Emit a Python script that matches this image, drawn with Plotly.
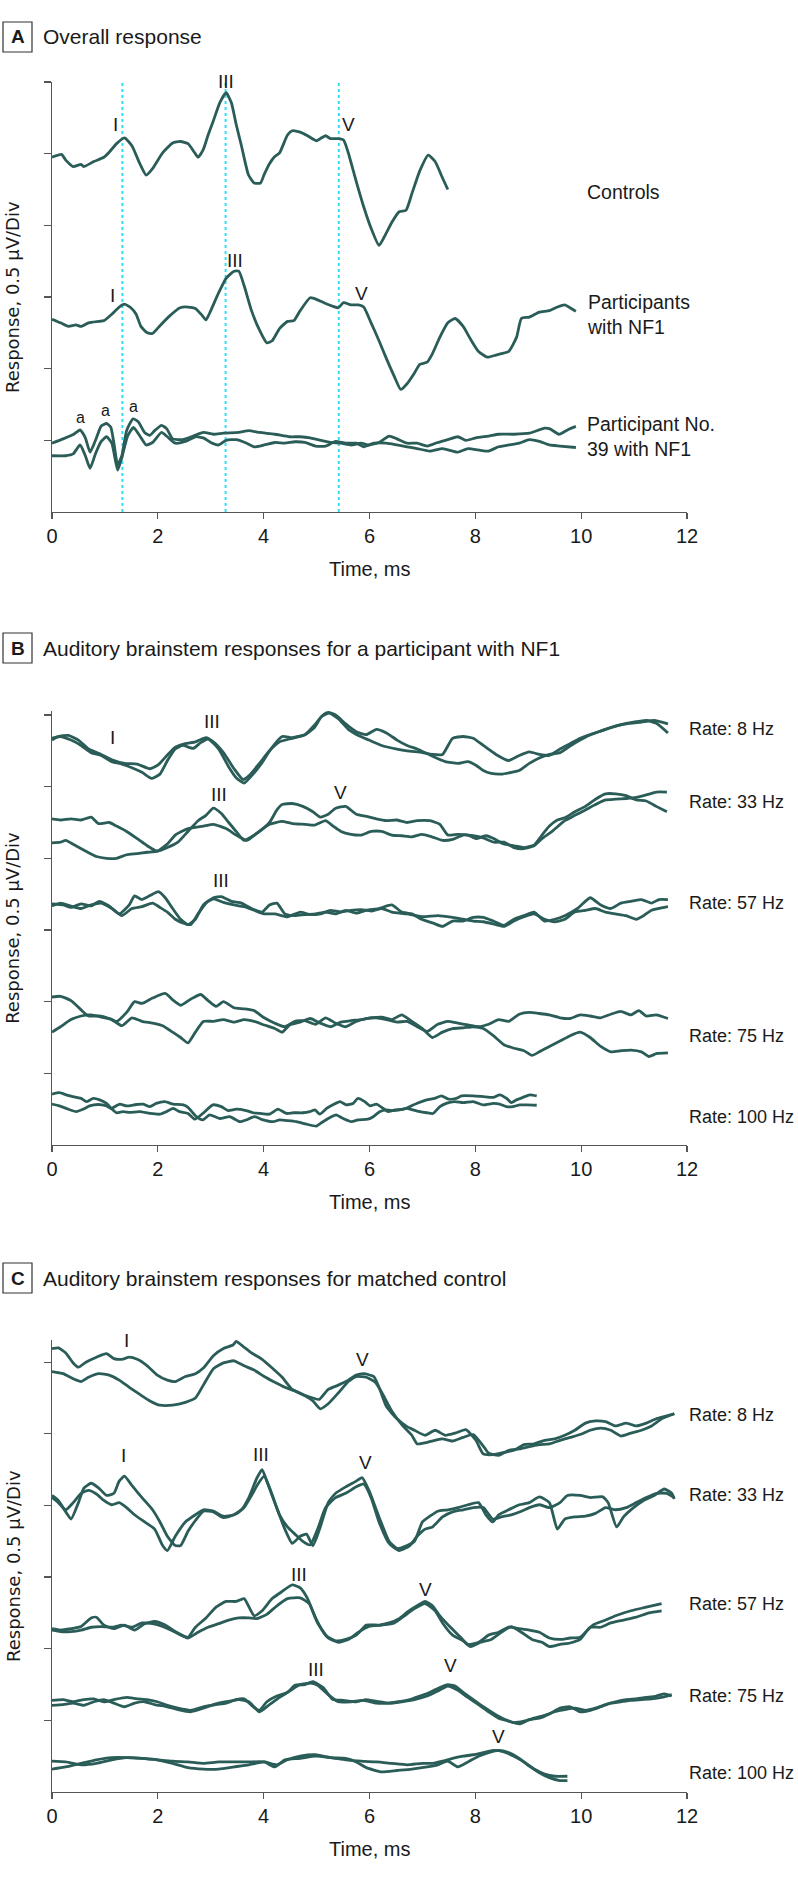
import plotly.graph_objects as go

W, H = 798, 1877
LINE = "#2b5d58"
AXC = "#555555"
FONT = "Liberation Sans, Arial, sans-serif"

# ---------------- Panel A data (time in ms, amplitude in divisions of 0.5 uV) ----------------
ctrl_t = [0.00,0.18,0.26,0.40,0.55,0.60,0.79,0.98,1.08,1.22,1.37,1.51,1.66,1.78,1.90,2.09,2.28,2.43,2.57,2.69,
          2.76,2.86,2.95,3.05,3.17,3.29,3.39,3.48,3.58,3.71,3.82,3.94,4.01,4.11,4.21,4.30,4.45,4.54,4.69,4.83,
          5.00,5.07,5.17,5.26,5.41,5.51,5.60,5.75,5.89,6.03,6.18,6.28,6.42,6.56,6.69,6.80,6.95,7.11,7.24,7.38,7.48]
ctrl_v = [4.95,4.99,4.91,4.82,4.85,4.82,4.89,4.95,5.02,5.14,5.22,5.11,4.86,4.70,4.79,5.01,5.15,5.17,5.14,5.02,
          4.95,5.06,5.26,5.46,5.71,5.85,5.71,5.41,5.11,4.71,4.59,4.59,4.71,4.86,4.96,5.01,5.26,5.32,5.30,5.25,
          5.18,5.21,5.25,5.21,5.21,5.19,5.01,4.61,4.26,3.96,3.72,3.84,4.04,4.19,4.21,4.44,4.76,4.98,4.89,4.66,4.50]

nf1_t = [0.00,0.16,0.31,0.45,0.55,0.69,0.89,0.98,1.13,1.27,1.37,1.49,1.59,1.68,1.80,1.90,2.04,2.23,2.42,2.57,
         2.71,2.84,2.91,3.00,3.15,3.29,3.44,3.53,3.63,3.77,3.92,4.06,4.16,4.30,4.45,4.57,4.69,4.88,5.02,5.17,
         5.31,5.41,5.51,5.65,5.79,5.89,6.03,6.18,6.32,6.47,6.59,6.71,6.85,6.95,7.09,7.19,7.33,7.48,7.62,7.77,
         7.91,8.06,8.23,8.39,8.49,8.63,8.78,8.87,9.02,9.21,9.40,9.55,9.69,9.79,9.90]
nf1_v = [2.69,2.64,2.59,2.61,2.59,2.64,2.66,2.67,2.76,2.86,2.90,2.85,2.76,2.59,2.50,2.49,2.60,2.74,2.85,2.86,
         2.84,2.74,2.68,2.81,3.06,3.26,3.36,3.36,3.16,2.81,2.54,2.36,2.39,2.56,2.66,2.67,2.81,2.99,2.96,2.91,
         2.87,2.85,2.92,2.89,2.89,2.86,2.64,2.39,2.14,1.89,1.71,1.79,1.94,2.06,2.09,2.21,2.44,2.64,2.70,2.59,
         2.41,2.24,2.16,2.19,2.21,2.24,2.44,2.70,2.72,2.79,2.81,2.86,2.89,2.85,2.80]

p39a_t = [0.00,0.21,0.41,0.53,0.63,0.72,0.84,0.93,1.03,1.11,1.17,1.24,1.32,1.41,1.53,1.63,1.75,1.85,1.94,2.07,
          2.17,2.28,2.47,2.67,2.86,3.05,3.24,3.53,3.72,3.92,4.21,4.49,4.69,4.88,5.02,5.26,5.46,5.65,5.84,5.99,
          6.18,6.37,6.52,6.71,6.90,7.09,7.29,7.48,7.67,7.82,8.01,8.25,8.44,8.73,9.02,9.31,9.41,9.58,9.74,9.90]
p39a_v = [0.96,1.02,1.085,1.145,1.035,0.835,1.035,1.2,1.235,1.185,0.96,0.66,0.785,1.135,1.3,1.26,1.11,1.07,1.135,1.21,
          1.16,1.02,1.01,1.06,1.11,1.085,1.1,1.11,1.135,1.11,1.085,1.05,1.05,1.035,1.01,0.97,0.96,0.935,0.96,0.935,
          0.97,1.06,1.02,0.96,0.96,0.92,0.97,1.01,1.05,1.0,1.035,1.06,1.085,1.085,1.1,1.17,1.16,1.085,1.145,1.195]

p39b_t = [0.00,0.26,0.40,0.53,0.63,0.72,0.82,0.93,1.03,1.13,1.24,1.32,1.43,1.54,1.66,1.78,1.90,2.07,2.18,2.33,
          2.52,2.71,2.86,3.00,3.15,3.29,3.48,3.68,3.82,4.01,4.21,4.40,4.59,4.78,4.98,5.17,5.36,5.55,5.75,5.89,
          6.08,6.32,6.52,6.71,6.90,7.14,7.38,7.67,7.86,8.10,8.25,8.44,8.63,8.83,9.02,9.21,9.40,9.60,9.90]
p39b_v = [0.785,0.785,0.81,0.935,0.785,0.61,0.81,0.985,1.05,0.96,0.585,0.76,1.06,1.18,1.06,0.935,0.97,1.11,1.05,0.96,
          0.985,1.05,1.035,0.97,0.935,1.0,1.01,0.96,0.91,0.935,0.97,0.96,0.98,0.97,0.92,0.92,0.985,0.96,0.96,0.91,
          0.96,0.96,0.935,0.91,0.885,0.85,0.885,0.835,0.885,0.86,0.85,0.91,0.935,0.96,1.01,0.985,0.935,0.92,0.9]

marker_lines_ms = [1.33, 3.28, 5.42]

# ---------------- Panel B data ----------------
b8a_t = [0,0.12,0.31,0.50,0.69,0.93,1.13,1.37,1.61,1.85,2.00,2.19,2.33,2.52,2.71,2.91,3.05,3.24,3.44,3.61,
         3.72,3.92,4.11,4.30,4.54,4.78,4.98,5.12,5.22,5.36,5.55,5.75,5.94,6.13,6.32,6.52,6.71,6.90,7.19,7.43,
         7.67,7.86,8.01,8.15,8.30,8.49,8.68,8.83,9.02,9.21,9.40,9.60,9.79,9.98,10.17,10.37,10.56,10.75,10.99,11.23,
         11.42,11.64]
b8a_v = [5.65,5.7,5.715,5.65,5.525,5.45,5.375,5.325,5.315,5.25,5.3,5.45,5.55,5.6,5.625,5.685,5.625,5.475,5.25,5.1,
         5.15,5.325,5.5,5.625,5.675,5.725,5.875,6.0,6.035,6.0,5.875,5.765,5.725,5.8,5.75,5.65,5.575,5.525,5.425,5.35,
         5.325,5.35,5.3,5.225,5.185,5.175,5.2,5.225,5.325,5.4,5.45,5.475,5.565,5.65,5.725,5.775,5.825,5.865,5.9,5.925,
         5.885,5.75]
b8b_t = [0,0.16,0.36,0.55,0.74,0.93,1.13,1.32,1.51,1.70,1.88,2.04,2.19,2.33,2.47,2.67,2.81,2.95,3.15,3.34,
         3.48,3.63,3.77,3.96,4.16,4.35,4.54,4.78,4.96,5.09,5.24,5.41,5.60,5.79,5.99,6.23,6.52,6.71,7.00,7.19,
         7.38,7.57,7.77,7.96,8.15,8.39,8.63,8.83,9.02,9.21,9.40,9.60,9.79,9.98,10.27,10.56,10.85,11.14,11.38,11.64]
b8b_v = [5.675,5.7,5.65,5.575,5.475,5.435,5.35,5.315,5.265,5.2,5.115,5.175,5.375,5.525,5.575,5.535,5.615,5.665,5.525,5.275,
         5.125,5.05,5.15,5.325,5.55,5.7,5.685,5.725,5.825,5.975,6.025,5.95,5.8,5.715,5.65,5.575,5.525,5.5,5.475,5.45,
         5.45,5.675,5.7,5.675,5.575,5.45,5.365,5.435,5.485,5.45,5.435,5.525,5.6,5.675,5.75,5.825,5.875,5.9,5.925,5.875]

b33a_t = [0,0.16,0.36,0.55,0.74,0.88,1.08,1.22,1.41,1.61,1.80,1.99,2.18,2.38,2.57,2.76,2.91,3.05,3.20,3.34,
          3.48,3.63,3.77,3.92,4.11,4.25,4.35,4.54,4.74,4.93,5.07,5.22,5.36,5.55,5.75,5.94,6.13,6.32,6.51,6.71,
          6.90,7.14,7.33,7.48,7.67,7.86,8.01,8.21,8.35,8.54,8.73,8.92,9.11,9.26,9.40,9.55,9.69,9.88,10.08,10.27,
          10.46,10.65,10.85,11.04,11.23,11.42,11.62]
b33a_v = [4.55,4.535,4.55,4.535,4.575,4.485,4.5,4.45,4.375,4.275,4.175,4.1,4.15,4.225,4.375,4.525,4.6,4.7,4.625,4.5,
          4.375,4.25,4.3,4.375,4.5,4.675,4.75,4.765,4.725,4.65,4.575,4.615,4.7,4.725,4.615,4.585,4.55,4.525,4.535,4.5,
          4.525,4.525,4.475,4.325,4.335,4.325,4.275,4.315,4.275,4.2,4.175,4.15,4.185,4.325,4.45,4.535,4.565,4.65,4.725,4.825,
          4.9,4.9,4.875,4.815,4.8,4.725,4.65]
b33b_t = [0,0.16,0.26,0.45,0.64,0.84,1.03,1.22,1.41,1.61,1.80,1.99,2.18,2.33,2.57,2.86,3.05,3.29,3.48,3.68,
          3.87,4.11,4.35,4.54,4.78,4.97,5.17,5.31,5.46,5.65,5.84,6.03,6.23,6.42,6.61,6.80,6.99,7.18,7.38,7.57,
          7.77,7.96,8.15,8.35,8.54,8.73,8.92,9.11,9.26,9.45,9.69,9.88,10.08,10.27,10.46,10.65,10.85,11.04,11.23,11.42,
          11.62]
b33b_v = [4.215,4.225,4.25,4.175,4.1,4.025,4.0,4.0,4.05,4.065,4.085,4.1,4.2,4.325,4.415,4.45,4.475,4.415,4.325,4.25,
          4.35,4.475,4.515,4.485,4.475,4.465,4.525,4.45,4.375,4.335,4.325,4.375,4.375,4.325,4.315,4.3,4.335,4.3,4.25,4.265,
          4.325,4.315,4.285,4.225,4.225,4.15,4.135,4.175,4.275,4.375,4.525,4.6,4.675,4.75,4.815,4.825,4.835,4.85,4.885,4.925,
          4.925]

b57a_t = [0,0.21,0.36,0.55,0.74,0.89,1.08,1.27,1.46,1.56,1.70,1.90,2.01,2.14,2.28,2.43,2.57,2.71,2.86,3.05,
          3.20,3.39,3.58,3.77,3.97,4.11,4.25,4.40,4.59,4.78,4.98,5.17,5.36,5.55,5.75,5.94,6.18,6.42,6.61,6.80,
          6.98,7.19,7.38,7.57,7.77,7.96,8.15,8.34,8.54,8.73,8.92,9.11,9.31,9.50,9.69,9.93,10.17,10.37,10.56,10.75,
          10.94,11.14,11.33,11.47,11.64]
b57a_v = [3.365,3.35,3.315,3.365,3.335,3.4,3.335,3.225,3.35,3.475,3.425,3.5,3.535,3.45,3.3,3.15,3.075,3.15,3.35,3.45,
          3.465,3.4,3.375,3.3,3.25,3.35,3.375,3.225,3.2,3.215,3.225,3.25,3.225,3.275,3.235,3.275,3.3,3.35,3.25,3.225,
          3.15,3.1,3.05,3.125,3.125,3.175,3.175,3.125,3.065,3.15,3.2,3.25,3.125,3.15,3.2,3.3,3.45,3.35,3.3,3.375,
          3.4,3.425,3.375,3.425,3.425]
b57b_t = [0,0.16,0.36,0.55,0.74,0.93,1.13,1.32,1.51,1.70,1.90,2.04,2.18,2.33,2.47,2.62,2.76,2.91,3.05,3.24,
          3.44,3.63,3.82,4.01,4.21,4.45,4.69,4.88,5.07,5.26,5.46,5.65,5.84,6.03,6.23,6.42,6.71,7.00,7.29,7.57,
          7.77,7.96,8.15,8.39,8.54,8.73,8.92,9.11,9.31,9.50,9.69,9.88,10.08,10.27,10.46,10.65,10.85,11.04,11.18,11.33,
          11.64]
b57b_v = [3.335,3.375,3.335,3.3,3.35,3.375,3.3,3.2,3.3,3.325,3.375,3.315,3.25,3.15,3.1,3.075,3.225,3.375,3.435,3.385,
          3.35,3.325,3.275,3.225,3.225,3.185,3.25,3.215,3.225,3.275,3.25,3.275,3.285,3.265,3.3,3.25,3.225,3.185,3.2,3.175,
          3.15,3.125,3.115,3.075,3.05,3.125,3.185,3.225,3.15,3.115,3.15,3.25,3.275,3.3,3.25,3.225,3.2,3.15,3.2,3.275,
          3.325]

b75a_t = [0,0.16,0.36,0.55,0.69,0.89,1.08,1.22,1.41,1.56,1.70,1.90,2.14,2.28,2.43,2.62,2.81,2.95,3.10,3.24,
          3.44,3.63,3.82,4.01,4.21,4.40,4.59,4.78,4.98,5.17,5.36,5.55,5.75,5.94,6.13,6.32,6.52,6.71,6.90,7.09,
          7.29,7.48,7.67,7.86,8.06,8.25,8.44,8.63,8.83,9.02,9.21,9.40,9.60,9.79,9.98,10.17,10.37,10.56,10.75,10.94,
          11.09,11.23,11.42,11.64]
b75a_v = [2.065,2.075,2.015,1.885,1.8,1.8,1.765,1.725,1.85,2.0,1.975,2.05,2.115,2.025,1.95,2.035,2.1,2.015,1.935,2.0,
          1.915,1.9,1.875,1.775,1.7,1.65,1.725,1.735,1.685,1.775,1.7,1.65,1.725,1.765,1.775,1.75,1.715,1.725,1.65,1.585,
          1.685,1.725,1.7,1.675,1.65,1.685,1.75,1.725,1.825,1.85,1.835,1.815,1.775,1.765,1.815,1.8,1.775,1.825,1.865,1.815,
          1.875,1.8,1.815,1.765]
b75b_t = [0,0.16,0.36,0.55,0.74,0.93,1.13,1.32,1.51,1.70,1.90,2.09,2.28,2.43,2.57,2.71,2.86,3.05,3.24,3.44,
          3.63,3.82,4.01,4.21,4.35,4.49,4.69,4.88,5.07,5.26,5.46,5.65,5.84,6.03,6.23,6.42,6.61,6.80,7.00,7.19,
          7.38,7.57,7.77,7.96,8.15,8.34,8.54,8.73,8.92,9.07,9.21,9.40,9.60,9.79,9.98,10.17,10.37,10.56,10.75,10.94,
          11.14,11.28,11.42,11.64]
b75b_v = [1.575,1.65,1.75,1.8,1.815,1.785,1.75,1.665,1.775,1.725,1.7,1.665,1.575,1.5,1.425,1.575,1.725,1.725,1.75,1.715,
          1.75,1.725,1.675,1.625,1.575,1.675,1.715,1.765,1.7,1.65,1.715,1.735,1.75,1.775,1.785,1.75,1.815,1.725,1.625,1.5,
          1.575,1.625,1.635,1.65,1.625,1.525,1.4,1.35,1.315,1.25,1.3,1.375,1.45,1.525,1.575,1.5,1.375,1.3,1.315,1.325,
          1.3,1.235,1.275,1.285]

b100a_t = [0,0.14,0.27,0.46,0.55,0.65,0.78,0.90,1.03,1.12,1.22,1.34,1.47,1.66,1.85,2.04,2.16,2.29,2.41,2.57,
           2.70,2.85,3.04,3.20,3.33,3.48,3.67,3.80,3.93,4.11,4.27,4.43,4.56,4.74,4.87,4.97,5.06,5.19,5.31,5.44,
           5.56,5.69,5.78,5.91,6.01,6.13,6.26,6.35,6.48,6.64,6.76,6.89,7.08,7.23,7.36,7.49,7.64,7.74,7.96,8.15,
           8.34,8.46,8.59,8.68,8.78,8.90,9.03,9.16]
b100a_v = [0.71,0.73,0.70,0.665,0.65,0.605,0.65,0.63,0.58,0.51,0.45,0.465,0.455,0.465,0.44,0.43,0.465,0.51,0.465,0.44,
           0.36,0.44,0.56,0.535,0.48,0.50,0.48,0.45,0.44,0.43,0.50,0.44,0.45,0.45,0.465,0.49,0.43,0.51,0.56,0.605,
           0.56,0.58,0.65,0.605,0.545,0.57,0.51,0.465,0.49,0.50,0.535,0.58,0.63,0.65,0.685,0.64,0.65,0.685,0.685,0.675,
           0.665,0.70,0.65,0.59,0.63,0.665,0.70,0.685]
b100b_t = [0,0.14,0.27,0.46,0.59,0.71,0.87,1.03,1.12,1.28,1.41,1.59,1.72,1.85,1.97,2.13,2.29,2.48,2.57,2.73,
           2.85,2.98,3.17,3.36,3.55,3.67,3.83,3.99,4.18,4.30,4.46,4.62,4.81,5.00,5.12,5.28,5.37,5.50,5.66,5.78,
           5.97,6.07,6.19,6.32,6.45,6.57,6.70,6.82,6.95,7.08,7.20,7.33,7.45,7.61,7.77,7.96,8.15,8.34,8.46,8.59,
           8.71,8.84,8.97,9.16]
b100b_v = [0.57,0.545,0.51,0.465,0.50,0.545,0.565,0.545,0.51,0.57,0.545,0.565,0.57,0.535,0.58,0.605,0.57,0.56,0.525,0.395,
           0.35,0.42,0.37,0.395,0.325,0.35,0.395,0.35,0.325,0.35,0.34,0.325,0.29,0.265,0.325,0.395,0.42,0.37,0.325,0.35,
           0.36,0.395,0.465,0.49,0.48,0.49,0.51,0.49,0.465,0.45,0.44,0.535,0.58,0.605,0.59,0.605,0.56,0.58,0.57,0.535,
           0.535,0.56,0.56,0.555]

# ---------------- Panel C data ----------------
c8a_t = [0,0.12,0.26,0.40,0.50,0.64,0.84,1.03,1.17,1.32,1.46,1.61,1.80,1.99,2.18,2.33,2.52,2.71,2.86,3.05,
         3.24,3.42,3.48,3.58,3.77,3.97,4.16,4.35,4.54,4.74,4.93,5.05,5.22,5.41,5.60,5.75,5.89,6.08,6.18,6.32,
         6.52,6.71,6.85,7.05,7.24,7.43,7.62,7.82,8.01,8.15,8.34,8.54,8.73,8.92,9.11,9.31,9.50,9.69,9.88,10.08,
         10.27,10.46,10.65,10.85,11.04,11.23,11.42,11.62,11.76]
c8a_v = [6.19,6.20,6.13,5.99,5.93,6.0,6.07,6.12,6.05,6.04,6.07,6.04,5.95,5.82,5.75,5.73,5.80,5.84,5.92,6.09,
         6.19,6.24,6.29,6.24,6.13,6.04,5.92,5.79,5.62,5.55,5.50,5.48,5.62,5.68,5.75,5.82,5.84,5.80,5.65,5.38,
         5.21,5.10,5.05,4.98,5.05,4.98,5.01,5.06,4.91,4.72,4.71,4.74,4.77,4.85,4.86,4.91,4.93,4.98,5.05,5.15,
         5.18,5.17,5.11,5.15,5.11,5.15,5.21,5.25,5.28]
c8b_t = [0,0.21,0.40,0.55,0.69,0.89,1.08,1.27,1.46,1.66,1.85,2.04,2.28,2.52,2.71,2.86,3.05,3.24,3.44,3.63,
         3.82,4.01,4.21,4.40,4.59,4.78,4.93,5.07,5.22,5.41,5.60,5.75,5.94,6.11,6.23,6.42,6.61,6.80,6.90,7.09,
         7.24,7.38,7.57,7.77,7.96,8.15,8.25,8.44,8.63,8.83,9.07,9.21,9.40,9.60,9.79,9.98,10.17,10.37,10.56,10.75,
         10.94,11.14,11.33,11.52,11.76]
c8b_v = [5.87,5.84,5.77,5.73,5.79,5.84,5.82,5.75,5.65,5.55,5.46,5.40,5.40,5.44,5.50,5.68,5.91,5.99,6.02,5.95,
         5.89,5.80,5.72,5.65,5.60,5.53,5.46,5.35,5.42,5.57,5.73,5.80,5.79,5.72,5.58,5.32,5.13,4.98,4.86,4.88,
         4.91,4.93,4.90,4.95,4.99,4.83,4.73,4.70,4.77,4.79,4.83,4.85,4.86,4.91,4.95,4.99,5.05,5.08,5.05,4.97,
         5.01,5.05,5.11,5.21,5.28]

c33a_t = [0,0.12,0.26,0.36,0.50,0.60,0.74,0.89,1.03,1.17,1.27,1.37,1.51,1.70,1.90,2.04,2.18,2.33,2.43,2.57,
          2.71,2.86,3.05,3.24,3.44,3.58,3.72,3.87,3.97,4.06,4.21,4.40,4.54,4.69,4.81,4.93,5.07,5.22,5.36,5.55,
          5.75,5.86,5.99,6.18,6.37,6.52,6.71,6.85,7.00,7.14,7.29,7.48,7.67,7.86,8.06,8.20,8.33,8.44,8.63,8.83,
          9.02,9.21,9.40,9.55,9.69,9.88,10.08,10.27,10.46,10.65,10.85,11.04,11.23,11.42,11.62,11.76]
c33a_v = [4.14,4.07,3.91,3.81,4.04,4.24,4.31,4.24,4.14,4.17,4.34,4.41,4.28,4.11,3.94,3.77,3.57,3.44,3.44,3.64,
          3.79,3.92,3.91,3.83,3.87,3.94,4.11,4.38,4.50,4.34,4.04,3.67,3.47,3.57,3.60,3.44,3.70,4.04,4.17,4.26,
          4.34,4.39,4.21,3.84,3.50,3.40,3.44,3.50,3.77,3.85,3.92,3.94,3.97,4.01,4.04,3.87,3.77,3.87,3.94,4.01,
          4.04,4.12,4.04,3.67,3.81,3.84,3.85,3.89,3.97,3.94,3.97,4.04,4.11,4.17,4.17,4.11]
c33b_t = [0,0.12,0.26,0.40,0.55,0.69,0.84,0.98,1.13,1.27,1.41,1.56,1.75,1.94,2.09,2.18,2.33,2.52,2.71,2.86,
          3.05,3.24,3.44,3.63,3.77,3.90,4.01,4.13,4.30,4.45,4.59,4.74,4.88,5.02,5.17,5.36,5.55,5.75,5.89,6.03,
          6.18,6.37,6.56,6.76,6.90,7.05,7.19,7.38,7.57,7.77,7.96,8.15,8.33,8.49,8.68,8.87,9.02,9.21,9.40,9.60,
          9.74,9.98,10.17,10.41,10.51,10.67,10.80,10.99,11.18,11.38,11.57,11.71,11.76]
c33b_v = [4.11,4.04,3.94,4.04,4.17,4.21,4.16,4.07,4.01,4.04,3.97,3.87,3.77,3.67,3.44,3.37,3.57,3.77,3.87,3.94,
          3.92,3.85,3.87,3.97,4.14,4.31,4.41,4.21,3.87,3.70,3.60,3.50,3.45,3.67,3.97,4.11,4.17,4.26,4.30,4.11,
          3.77,3.47,3.37,3.44,3.57,3.67,3.70,3.84,3.91,3.94,3.97,3.97,3.81,3.84,3.87,3.92,3.97,4.01,3.97,4.04,
          4.14,4.14,4.11,4.12,4.04,3.70,3.84,3.97,4.07,4.14,4.23,4.17,4.09]

c57a_t = [0,0.16,0.36,0.55,0.74,0.84,0.98,1.17,1.37,1.56,1.75,1.94,2.14,2.33,2.57,2.71,2.91,3.10,3.29,3.48,
          3.63,3.82,3.97,4.16,4.35,4.54,4.69,4.83,4.98,5.17,5.36,5.55,5.75,5.94,6.18,6.37,6.56,6.71,6.90,7.05,
          7.19,7.33,7.53,7.72,7.86,8.06,8.25,8.44,8.63,8.83,9.02,9.21,9.40,9.60,9.79,9.98,10.22,10.46,10.65,10.94,
          11.23,11.52]
c57a_v = [2.28,2.26,2.28,2.31,2.43,2.44,2.33,2.28,2.33,2.26,2.35,2.38,2.33,2.24,2.16,2.30,2.43,2.58,2.66,2.66,
          2.70,2.46,2.53,2.70,2.80,2.89,2.85,2.70,2.43,2.19,2.11,2.13,2.19,2.33,2.33,2.36,2.42,2.51,2.60,2.66,
          2.60,2.46,2.30,2.16,2.06,2.09,2.19,2.23,2.30,2.28,2.26,2.23,2.15,2.13,2.15,2.16,2.33,2.40,2.46,2.53,
          2.58,2.63]
c57b_t = [0,0.16,0.36,0.55,0.74,0.93,1.13,1.32,1.51,1.70,1.90,2.09,2.33,2.57,2.76,2.95,3.15,3.34,3.53,3.72,
          3.87,4.06,4.25,4.45,4.69,4.86,5.02,5.22,5.41,5.60,5.79,5.99,6.23,6.47,6.66,6.85,7.05,7.24,7.38,7.57,
          7.77,7.91,8.10,8.30,8.49,8.68,8.87,9.07,9.26,9.40,9.60,9.79,9.98,10.17,10.37,10.56,10.80,11.04,11.28,11.52]
c57b_v = [2.26,2.24,2.24,2.26,2.30,2.31,2.30,2.33,2.30,2.36,2.35,2.31,2.23,2.15,2.23,2.30,2.35,2.40,2.43,2.43,
          2.42,2.48,2.60,2.70,2.71,2.63,2.36,2.15,2.09,2.13,2.23,2.31,2.33,2.36,2.46,2.56,2.63,2.53,2.36,2.19,
          2.11,2.03,2.09,2.13,2.23,2.31,2.23,2.13,2.09,2.03,2.06,2.08,2.13,2.30,2.30,2.36,2.40,2.44,2.50,2.53]

c75a_t = [0,0.21,0.40,0.60,0.79,0.98,1.17,1.41,1.61,1.80,1.99,2.18,2.38,2.62,2.86,3.10,3.29,3.48,3.63,3.77,
          3.92,4.06,4.25,4.45,4.59,4.78,4.93,5.12,5.31,5.51,5.75,5.94,6.18,6.37,6.56,6.76,6.95,7.14,7.33,7.48,
          7.62,7.77,7.96,8.15,8.34,8.54,8.73,8.92,9.11,9.31,9.50,9.69,9.88,10.08,10.27,10.46,10.65,10.85,11.04,11.23,
          11.42,11.57,11.71]
c75a_v = [1.28,1.29,1.26,1.29,1.30,1.26,1.29,1.32,1.30,1.29,1.26,1.21,1.17,1.14,1.19,1.22,1.24,1.29,1.30,1.21,
          1.14,1.26,1.34,1.39,1.49,1.50,1.54,1.46,1.29,1.28,1.26,1.29,1.26,1.24,1.26,1.29,1.34,1.39,1.46,1.50,
          1.48,1.39,1.29,1.19,1.10,1.02,0.97,0.99,1.03,1.07,1.12,1.15,1.17,1.14,1.17,1.22,1.26,1.29,1.30,1.32,
          1.34,1.37,1.34]
c75b_t = [0,0.21,0.40,0.60,0.79,0.98,1.17,1.37,1.56,1.75,1.94,2.18,2.38,2.62,2.86,3.05,3.29,3.53,3.72,3.92,
          4.11,4.30,4.49,4.69,4.88,5.02,5.22,5.41,5.65,5.89,6.13,6.37,6.61,6.85,7.09,7.29,7.48,7.67,7.86,8.06,
          8.25,8.44,8.63,8.83,9.02,9.21,9.40,9.60,9.79,9.98,10.17,10.37,10.56,10.75,10.94,11.14,11.33,11.52,11.71]
c75b_v = [1.21,1.22,1.24,1.21,1.26,1.29,1.24,1.19,1.24,1.26,1.22,1.19,1.15,1.12,1.17,1.22,1.26,1.29,1.26,1.12,
          1.22,1.32,1.41,1.50,1.52,1.49,1.36,1.26,1.26,1.28,1.24,1.24,1.26,1.29,1.34,1.41,1.48,1.42,1.32,1.22,
          1.12,1.03,0.99,0.95,1.01,1.03,1.09,1.17,1.19,1.12,1.14,1.19,1.24,1.26,1.28,1.29,1.30,1.32,1.36]

c100a_t = [0,0.26,0.55,0.84,1.13,1.41,1.70,1.99,2.28,2.57,2.86,3.15,3.44,3.72,4.01,4.21,4.40,4.69,4.98,5.26,
           5.55,5.84,6.13,6.42,6.71,7.00,7.19,7.38,7.57,7.77,7.96,8.15,8.34,8.54,8.73,8.92,9.11,9.31,9.50,9.74]
c100a_v = [0.43,0.42,0.38,0.40,0.45,0.48,0.47,0.45,0.43,0.42,0.40,0.42,0.42,0.42,0.42,0.35,0.45,0.47,0.50,0.48,
           0.45,0.43,0.42,0.40,0.38,0.40,0.40,0.43,0.47,0.50,0.52,0.55,0.58,0.56,0.50,0.42,0.32,0.25,0.22,0.22]
c100b_t = [0,0.26,0.55,0.84,1.13,1.41,1.70,1.99,2.28,2.57,2.86,3.15,3.44,3.72,4.01,4.25,4.45,4.69,4.98,5.26,
           5.55,5.75,5.94,6.23,6.52,6.80,7.09,7.29,7.48,7.67,7.86,8.06,8.25,8.44,8.63,8.83,9.02,9.21,9.40,9.60,9.74]
c100b_v = [0.32,0.35,0.40,0.45,0.48,0.48,0.47,0.45,0.40,0.34,0.32,0.32,0.35,0.38,0.42,0.38,0.45,0.50,0.52,0.48,
           0.47,0.42,0.34,0.28,0.30,0.32,0.35,0.38,0.43,0.35,0.42,0.50,0.55,0.58,0.55,0.47,0.36,0.27,0.20,0.16,0.16]

# ---------------- texts ----------------
panel_letters = ["A", "B", "C"]
panel_titles = ["Overall response",
                "Auditory brainstem responses for a participant with NF1",
                "Auditory brainstem responses for matched control"]
y_title = "Response, 0.5 μV/Div"
x_title = "Time, ms"
x_ticks = [0, 2, 4, 6, 8, 10, 12]

a_group_labels = ["Controls", "Participants<br>with NF1", "Participant No.<br>39 with NF1"]
a_group_y = [4.47, 2.76, 1.05]
rate_labels = ["Rate: 8 Hz", "Rate: 33 Hz", "Rate: 57 Hz", "Rate: 75 Hz", "Rate: 100 Hz"]
b_rate_y = [5.80, 4.79, 3.37, 1.52, 0.39]
c_rate_y = [5.27, 4.14, 2.63, 1.34, 0.27]

# wave peak labels: (panel, time, level, text)
wave_labels = [
    ("A", 1.20, 5.40, "I"), ("A", 3.29, 6.00, "III"), ("A", 5.60, 5.40, "V"),
    ("A", 1.15, 3.02, "I"), ("A", 3.46, 3.51, "III"), ("A", 5.84, 3.05, "V"),
    ("B", 1.15, 5.69, "I"), ("B", 3.02, 5.91, "III"), ("B", 5.20, 6.24, "V"),
    ("B", 3.15, 4.89, "III"), ("B", 5.46, 4.92, "V"), ("B", 3.20, 3.69, "III"),
    ("C", 1.41, 6.30, "I"), ("C", 3.65, 6.44, "III"), ("C", 5.87, 6.04, "V"),
    ("C", 1.35, 4.70, "I"), ("C", 3.95, 4.71, "III"), ("C", 5.92, 4.60, "V"),
    ("C", 4.66, 3.03, "III"), ("C", 7.05, 2.83, "V"),
    ("C", 4.98, 1.71, "III"), ("C", 7.53, 1.76, "V"),
    ("C", 8.44, 0.77, "V"),
]
a_marks = [(0.53, 1.32), (1.01, 1.41), (1.54, 1.47)]

# ---------------- layout geometry (pixels) ----------------
PL, PR = 52, 687          # plot area left/right
def px(x):  # pixel x -> paper x
    return (x - PL) / (PR - PL)
def py(y):  # pixel y -> paper y
    return 1 - y / H

# panel: (axis suffix, top px, bottom px, y range, title y px)
panels = {
    "A": ("", 82, 512, [0, 6.0], 37),
    "B": ("2", 715 - 0.06 * 71.67, 1145, [0, 6.06], 648),
    "C": ("3", 1340, 1792, [0, 6.31], 1278),
}

fig = go.Figure()

def add_wave(t, v, panel, width=2.8):
    s = panels[panel][0]
    fig.add_trace(go.Scatter(
        x=t, y=v, mode="lines", xaxis="x" + s, yaxis="y" + s,
        line=dict(color=LINE, width=width, shape="spline", smoothing=0.5),
        hoverinfo="skip", showlegend=False))

# cyan marker lines (panel A)
for m in marker_lines_ms:
    fig.add_trace(go.Scatter(x=[m, m], y=[0, 6], mode="lines", xaxis="x", yaxis="y",
                             line=dict(color="#2ee0f5", width=2, dash="dot"),
                             hoverinfo="skip", showlegend=False))

for t, v in [(ctrl_t, ctrl_v), (nf1_t, nf1_v), (p39a_t, p39a_v), (p39b_t, p39b_v)]:
    add_wave(t, v, "A")
for t, v in [(b8a_t, b8a_v), (b8b_t, b8b_v), (b33a_t, b33a_v), (b33b_t, b33b_v),
             (b57a_t, b57a_v), (b57b_t, b57b_v), (b75a_t, b75a_v), (b75b_t, b75b_v),
             (b100a_t, b100a_v), (b100b_t, b100b_v)]:
    add_wave(t, v, "B")
for t, v in [(c8a_t, c8a_v), (c8b_t, c8b_v), (c33a_t, c33a_v), (c33b_t, c33b_v),
             (c57a_t, c57a_v), (c57b_t, c57b_v), (c75a_t, c75a_v), (c75b_t, c75b_v),
             (c100a_t, c100a_v), (c100b_t, c100b_v)]:
    add_wave(t, v, "C")

layout = dict(
    template="none",
    width=W, height=H, margin=dict(l=PL, r=W - PR, t=0, b=0, autoexpand=False),
    paper_bgcolor="white", plot_bgcolor="white", showlegend=False,
    font=dict(family=FONT, color="#1a1a1a"),
)
annotations = []
shapes = []
for key, (s, top, bot, yr, title_y) in panels.items():
    dom = [py(bot), py(top)]
    layout["xaxis" + s] = dict(
        domain=[0, 1], anchor="y" + s, range=[0, 12], tickvals=x_ticks,
        ticks="outside", ticklen=6, tickwidth=1.3, tickcolor=AXC, automargin=False,
        showline=True, linecolor=AXC, linewidth=1.3, showgrid=False, zeroline=False,
        tickfont=dict(family=FONT, size=20, color="#1a1a1a"), fixedrange=True)
    layout["yaxis" + s] = dict(
        domain=dom, anchor="x" + s, range=yr, tickvals=[1, 2, 3, 4, 5, 6],
        ticks="outside", ticklen=7, tickwidth=1.3, tickcolor=AXC, showticklabels=False,
        showline=True, linecolor=AXC, linewidth=1.3, showgrid=False, zeroline=False,
        automargin=False, fixedrange=True)
    # x title
    annotations.append(dict(text=x_title, x=6, xref="x" + s, y=py(bot + 57), yref="paper",
                            showarrow=False, xanchor="center", yanchor="middle",
                            font=dict(family=FONT, size=20, color="#1a1a1a")))
    # y title
    annotations.append(dict(text=y_title, x=px(13), xref="paper", y=py((top + bot) / 2), yref="paper",
                            textangle=-90, showarrow=False, xanchor="center", yanchor="middle",
                            font=dict(family="DejaVu Sans, sans-serif", size=18, color="#1a1a1a")))
    # panel letter box + title
    shapes.append(dict(type="rect", xref="paper", yref="paper",
                       x0=px(3), x1=px(32), y0=py(title_y + 15), y1=py(title_y - 15),
                       line=dict(color="#333333", width=1.2), fillcolor="white"))
    annotations.append(dict(text="<b>%s</b>" % key, x=px(17.5), xref="paper", y=py(title_y), yref="paper",
                            showarrow=False, xanchor="center", yanchor="middle",
                            font=dict(family=FONT, size=19, color="#1a1a1a")))
    idx = panel_letters.index(key)
    annotations.append(dict(text=panel_titles[idx], x=px(41), xref="paper", y=py(title_y), yref="paper",
                            showarrow=False, xanchor="left", yanchor="middle",
                            font=dict(family=FONT, size=21, color="#1a1a1a")))

# right-hand labels
for txt, yv in zip(a_group_labels, a_group_y):
    annotations.append(dict(text=txt, x=10.08, xref="x", y=yv, yref="y", showarrow=False,
                            xanchor="left", yanchor="middle", align="left",
                            font=dict(family=FONT, size=19.5, color="#1a1a1a")))
for txt, yv in zip(rate_labels, b_rate_y):
    annotations.append(dict(text=txt, x=12.0, xref="x2", y=yv, yref="y2", showarrow=False,
                            xanchor="left", yanchor="middle",
                            font=dict(family=FONT, size=18, color="#1a1a1a")))
for txt, yv in zip(rate_labels, c_rate_y):
    annotations.append(dict(text=txt, x=12.0, xref="x3", y=yv, yref="y3", showarrow=False,
                            xanchor="left", yanchor="middle",
                            font=dict(family=FONT, size=18, color="#1a1a1a")))

# wave labels
for panel, t, lv, txt in wave_labels:
    s = panels[panel][0]
    annotations.append(dict(text=txt, x=t, xref="x" + s, y=lv, yref="y" + s, showarrow=False,
                            xanchor="center", yanchor="middle",
                            font=dict(family=FONT, size=19, color="#1a1a1a")))
for t, lv in a_marks:
    annotations.append(dict(text="a", x=t, xref="x", y=lv, yref="y", showarrow=False,
                            xanchor="center", yanchor="middle",
                            font=dict(family=FONT, size=16, color="#1a1a1a")))

layout["annotations"] = annotations
layout["shapes"] = shapes
fig.update_layout(**layout)
fig.write_html("out.html",
               config={"displayModeBar": False, "staticPlot": True},
               post_script="document.body.style.margin='0';document.body.style.padding='0';")
